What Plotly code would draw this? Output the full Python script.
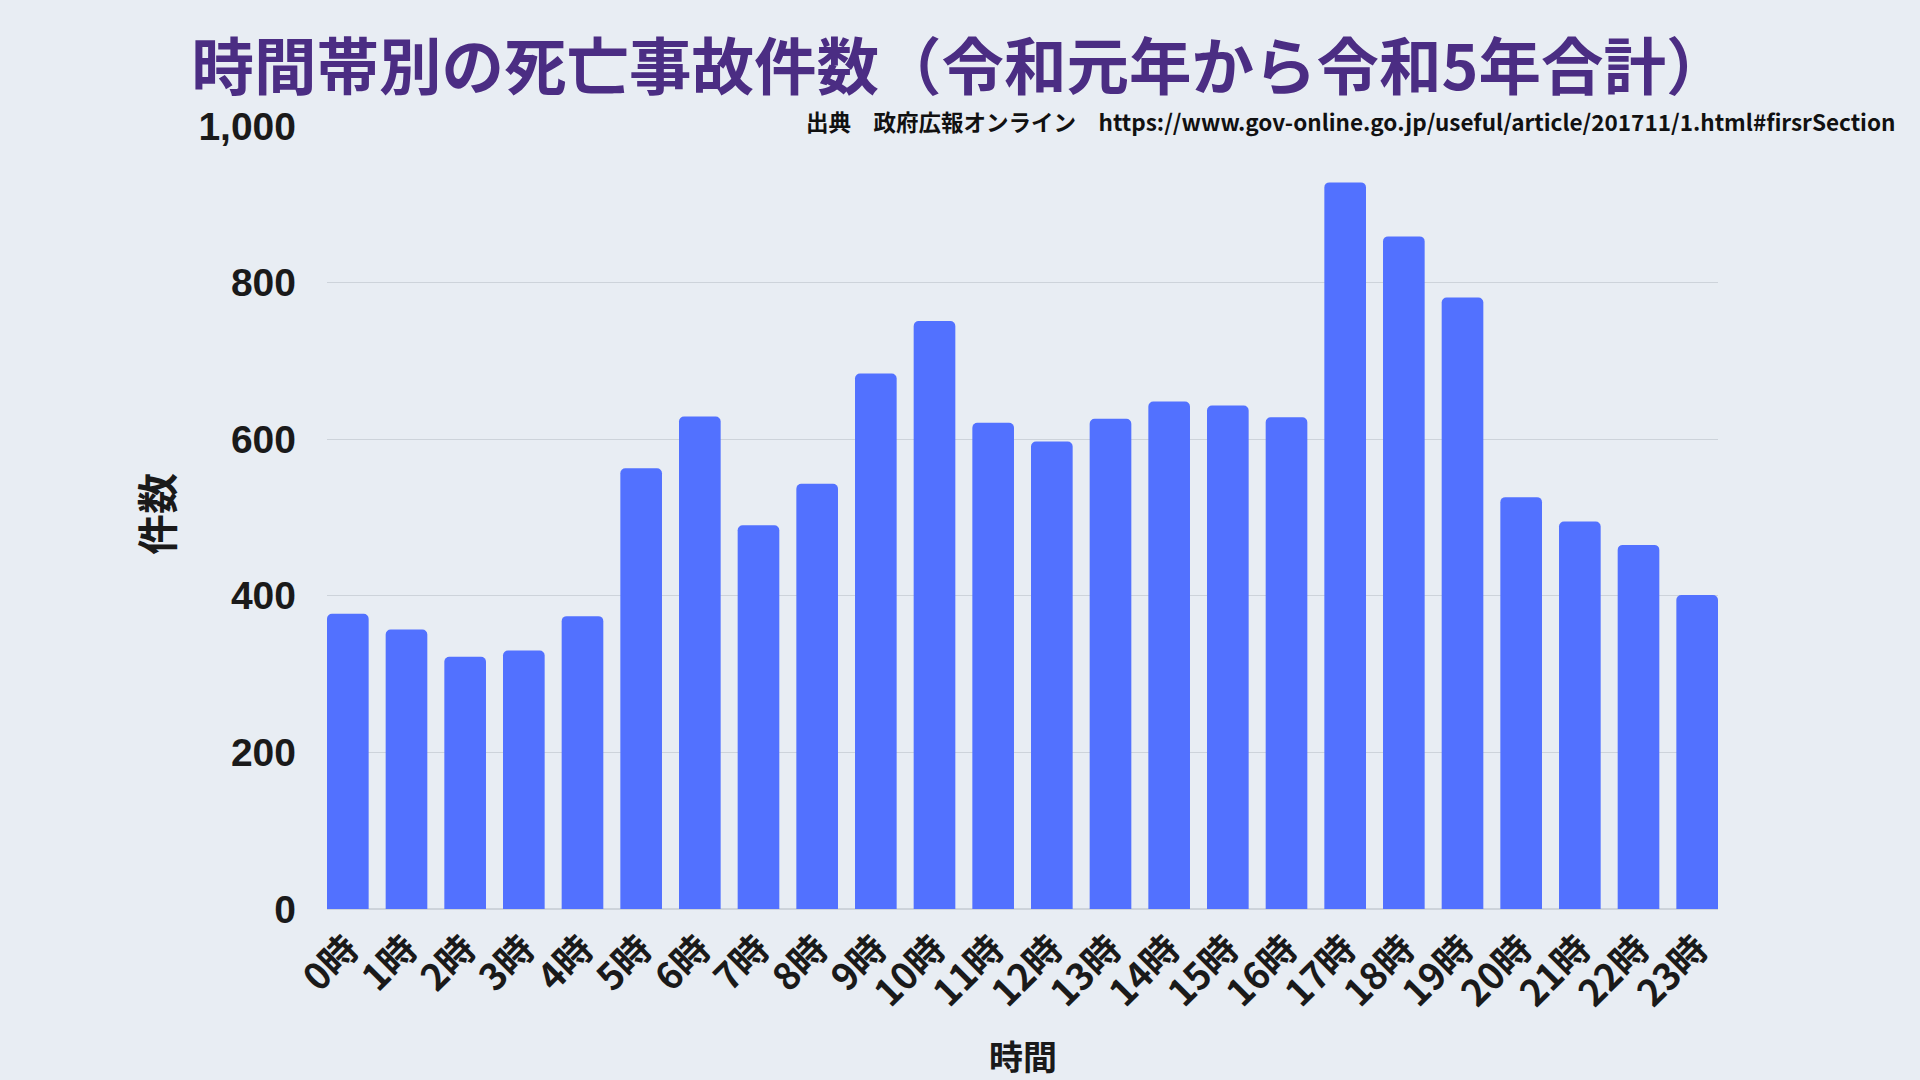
import plotly.graph_objects as go

hours = [f"{h}時" for h in range(24)]
counts = [377, 357, 322, 330, 374, 563, 629, 490, 543, 684, 751, 621,
          597, 626, 648, 643, 628, 928, 859, 781, 526, 495, 465, 401]
y_ticks = [0, 200, 400, 600, 800, 1000]
y_tick_labels = ["0", "200", "400", "600", "800", "1,000"]

title_text = "時間帯別の死亡事故件数（令和元年から令和5年合計）"
source_text = "出典　政府広報オンライン　https://www.gov-online.go.jp/useful/article/201711/1.html#firsrSection"

BG = "#E8EDF3"
CJK = "Noto Sans CJK JP"
BARGAP = 0.29
half_w = (1 - BARGAP) / 2

fig = go.Figure(go.Bar(
    x=list(range(len(hours))), y=counts,
    marker=dict(color="#5271FF", cornerradius=5, line=dict(width=0)),
))

fig.update_layout(
    width=1920, height=1080,
    paper_bgcolor=BG, plot_bgcolor=BG,
    margin=dict(l=327, r=202, t=126, b=171),
    bargap=BARGAP,
    showlegend=False,
    title=dict(text=title_text, x=960/1920, xanchor="center",
               y=1 - 68/1080, yanchor="middle",
               font=dict(family=CJK, size=62.5, color="#4B2D83", weight="bold")),
    xaxis=dict(tickangle=-45, showgrid=False, showline=False,
               tickvals=list(range(len(hours))), ticktext=hours,
               range=[-half_w, len(hours) - 1 + half_w],
               tickfont=dict(family=CJK, size=37, color="#1a1a1a", weight="bold"),
               ticks="", ticklabelstandoff=10),
    yaxis=dict(range=[0, 1000], tickvals=y_ticks, ticktext=y_tick_labels,
               showgrid=True, gridcolor="#CDD3DA", gridwidth=1,
               zeroline=True, zerolinecolor="#CDD3DA",
               tickfont=dict(family="Liberation Sans", size=39, color="#1a1a1a", weight="bold"),
               ticks="", ticklabelstandoff=30),
    annotations=[
        dict(text=source_text, xref="paper", yref="paper", x=(1897-327)/1391, y=(909-121)/783,
             xanchor="right", yanchor="middle", showarrow=False,
             font=dict(family=CJK, size=22.5, color="#111111", weight="bold")),
        dict(text="件数", xref="paper", yref="paper", x=(155-327)/1391, y=(909-514)/783,
             xanchor="center", yanchor="middle", textangle=-90, showarrow=False,
             font=dict(family=CJK, size=41, color="#1a1a1a", weight="bold")),
        dict(text="時間", xref="paper", yref="paper", x=0.5, y=(909-1055)/783,
             xanchor="center", yanchor="middle", showarrow=False,
             font=dict(family=CJK, size=34, color="#1a1a1a", weight="bold")),
    ],
)

fig.write_html("out.html")
